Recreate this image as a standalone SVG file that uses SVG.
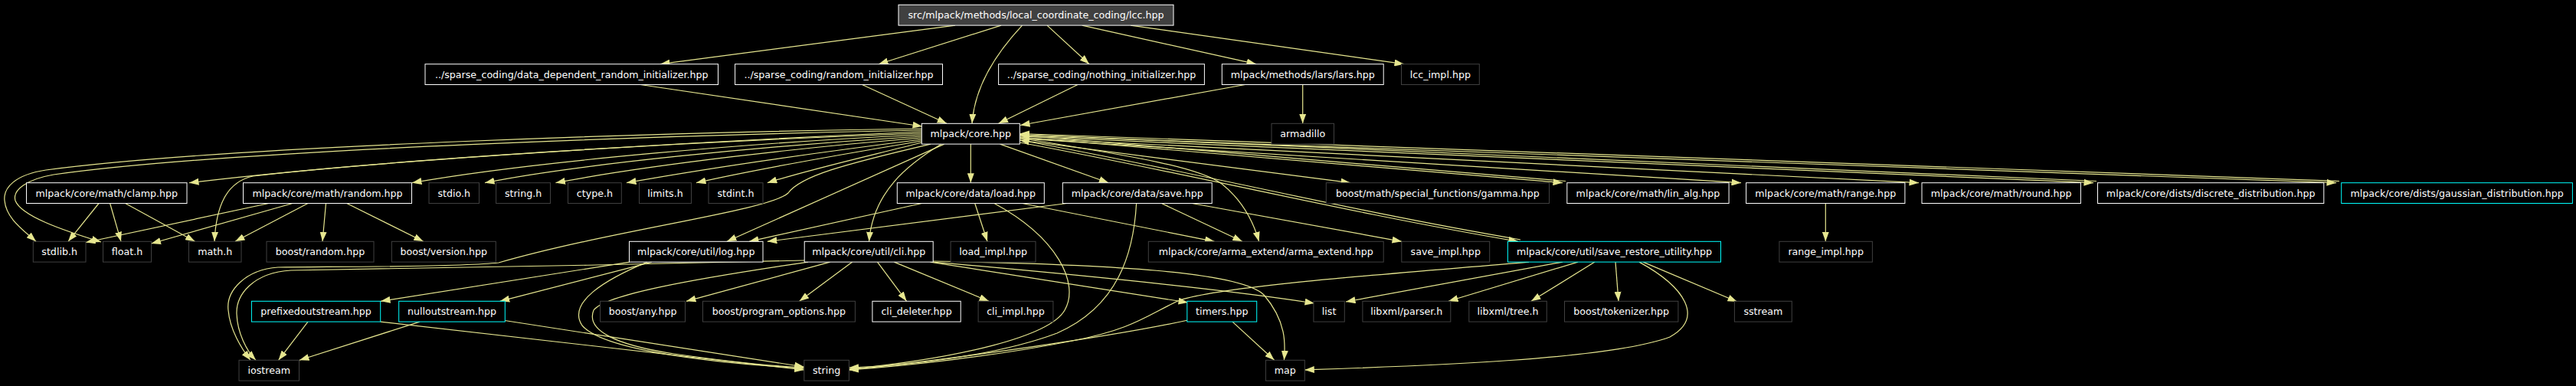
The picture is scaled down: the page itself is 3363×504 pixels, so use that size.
<svg xmlns="http://www.w3.org/2000/svg" width="3363" height="504" viewBox="0 0 3363 504">
<style>
.bg{fill:#000}
.n rect{fill:#000;stroke:#fff;stroke-width:1}
.n.root rect{fill:#404040}
.n.ext rect{stroke:#404040}
.n.tr rect{stroke:#00ffff}
.n text{font-family:"DejaVu Sans",sans-serif;font-size:12.65px;fill:#fff;text-anchor:middle}
#edges path{fill:none;stroke:#e6e68f;stroke-width:1.2;marker-end:url(#ah)}
</style>
<defs>
<marker id="ah" markerUnits="userSpaceOnUse" markerWidth="13" markerHeight="9" viewBox="0 0 13 9" refX="12.5" refY="4.5" orient="auto">
<path d="M0,0 L12.5,4.5 L0,9 z" fill="#e6e68f"/>
</marker>
</defs>
<rect class="bg" x="0" y="0" width="3363" height="504"/>
<g id="edges">
<path d="M1247,33.1 L862,83.7"/>
<path d="M1307,33.1 L1147,83.7"/>
<path d="M1334.5,33.1 C1300,70 1272,115 1269,161.3"/>
<path d="M1367,33.1 L1422,83.7"/>
<path d="M1412.7,33.1 L1640,83.7"/>
<path d="M1476,33.1 L1833,83.7"/>
<path d="M836,110.5 L1204,165"/>
<path d="M1125.5,110.5 L1236,161.3"/>
<path d="M1407,110.5 L1303.6,161.3"/>
<path d="M1625.5,110.5 L1332,163.5"/>
<path d="M1700.7,110.5 L1700.7,161.3"/>
<path d="M1203.3,174 C900,185 500,208 247,238.7"/>
<path d="M1203.3,176 C1000,185 700,210 538,238.7"/>
<path d="M1203.3,178 C1000,190 750,215 633,238.7"/>
<path d="M1203.3,180 C1050,192 850,215 725.5,238.7"/>
<path d="M1203.3,182 C1100,195 950,215 818,238.7"/>
<path d="M1203.3,184 C1120,198 1000,218 909,238.7"/>
<path d="M1203.3,186 C1150,200 1060,220 1001.8,238.7"/>
<path d="M1203.3,172 C900,185 500,210 330,230 C295,238 282,270 280,315.3"/>
<path d="M1203.3,168 C900,172 300,190 60,222 C20,228 4,245 6,262 C8,285 30,300 47,315.3"/>
<path d="M1203.3,170 C900,176 300,195 70,228 C35,234 16,248 20,262 C28,282 80,300 132,316"/>
<path d="M1267.3,188.1 L1267.3,238.7"/>
<path d="M1305.5,188.1 L1447.3,238.7"/>
<path d="M1232.7,188.1 L949,315.3"/>
<path d="M1229,188.1 C1185,215 1140,250 1134.5,315.3"/>
<path d="M1215,188.1 C1100,215 1045,230 1029,252 C1005,275 800,300 651,343 C600,349 420,348 363,349 C320,352 295,380 298,405 C300,430 315,455 327,470.3"/>
<path d="M1331.3,180 C1450,200 1560,215 1595,240 C1620,260 1635,285 1643.6,315.3"/>
<path d="M1331.3,183 L1763,238.7"/>
<path d="M1331.3,179 L2040,238.7"/>
<path d="M2044,236.5 L1331.3,176.5"/>
<path d="M1331.3,181 L2273,238.7"/>
<path d="M1331.3,180 L2505,238.7"/>
<path d="M1331.3,178 L2733,238.7"/>
<path d="M2737,236.5 L1331.3,175.5"/>
<path d="M1331.3,177 L3050,238.7"/>
<path d="M3054,236.5 L1331.3,174.5"/>
<path d="M1331.3,186 C1550,226 1750,276 1982,315.3"/>
<path d="M1985,313 C1750,273 1550,222 1331.3,183"/>
<path d="M129,265.5 L89,315.3"/>
<path d="M143.6,265.5 L158,315.3"/>
<path d="M163.6,265.5 L254.5,315.3"/>
<path d="M351,265.5 L112,316.5"/>
<path d="M382,265.5 L197.5,318"/>
<path d="M402,265.5 L307,315.3"/>
<path d="M425.5,265.5 L421,315.3"/>
<path d="M452.7,265.5 L552.7,315.3"/>
<path d="M1203.6,265.5 L978,315.3"/>
<path d="M1272.7,265.5 L1289,315.3"/>
<path d="M1298,265.5 C1380,310 1410,370 1390,405 C1370,440 1250,468 1108.4,482"/>
<path d="M1334.5,265.5 L1585.5,315.3"/>
<path d="M1393,265.5 L1001.8,315.3"/>
<path d="M1483.6,265.5 C1480,330 1460,400 1380,435 C1300,465 1180,478 1108.4,480"/>
<path d="M1516.4,265.5 L1621.8,315.3"/>
<path d="M1556,265.5 L1830,315.3"/>
<path d="M2383.3,265.5 L2383.3,315.3"/>
<path d="M822,342.1 L497,393.3"/>
<path d="M851,342.1 L652.7,393.3"/>
<path d="M845,342.1 C790,365 740,395 760,425 C790,460 950,475 1049.8,481"/>
<path d="M1050.2,340 C850,346 500,350 380,353 C330,356 308,385 309,410 C310,435 322,458 334,470.3"/>
<path d="M1055,342.1 C900,365 790,385 775,405 C765,430 800,450 880,462 C950,472 1010,478 1049.8,480"/>
<path d="M1083.6,342.1 L896,393.3"/>
<path d="M1112.7,342.1 L1043.6,393.3"/>
<path d="M1145.5,342.1 L1183.6,393.3"/>
<path d="M1167.3,342.1 L1291,393.3"/>
<path d="M1214.5,342.1 L1551,395"/>
<path d="M1218,341 C1450,345 1620,355 1650,385 C1680,420 1678,450 1676.4,470.3"/>
<path d="M1218,342.1 C1400,358 1600,378 1716,396"/>
<path d="M402,420.1 L363.6,470.3"/>
<path d="M496.7,420.1 L1049.8,483"/>
<path d="M548,420.1 L391,470.3"/>
<path d="M659,418.5 L1049.8,479"/>
<path d="M1609,420.1 L1663.6,470.3"/>
<path d="M1551,418 C1450,440 1250,468 1108.4,483"/>
<path d="M1996,342.1 C1850,355 1600,372 1540,392 C1500,410 1480,430 1400,445 C1300,465 1180,478 1108.4,483"/>
<path d="M2040,342.1 L1757,394"/>
<path d="M2060,342.1 L1891,393.3"/>
<path d="M2082,342.1 L1999,393.3"/>
<path d="M2109,342.1 L2113,393.3"/>
<path d="M2140,342.1 C2200,375 2225,415 2180,440 C2100,470 1850,478 1703.3,483"/>
<path d="M2145,342.1 L2268,394"/>
</g>
<g id="n_root" class="n root"><rect x="1173" y="6.3" width="359" height="26.8"/><text x="1352.5" y="24.1">src/mlpack/methods/local_coordinate_coding/lcc.hpp</text></g>
<g id="n_ddri" class="n"><rect x="555" y="83.7" width="382.5" height="26.8"/><text x="746.25" y="101.5">../sparse_coding/data_dependent_random_initializer.hpp</text></g>
<g id="n_ri" class="n"><rect x="959.6" y="83.7" width="270.9" height="26.8"/><text x="1095.05" y="101.5">../sparse_coding/random_initializer.hpp</text></g>
<g id="n_ni" class="n"><rect x="1303.6" y="83.7" width="268.8" height="26.8"/><text x="1438" y="101.5">../sparse_coding/nothing_initializer.hpp</text></g>
<g id="n_lars" class="n"><rect x="1595.3" y="83.7" width="210.9" height="26.8"/><text x="1700.75" y="101.5">mlpack/methods/lars/lars.hpp</text></g>
<g id="n_lccimpl" class="n ext"><rect x="1829.5" y="83.7" width="101.8" height="26.8"/><text x="1880.4" y="101.5">lcc_impl.hpp</text></g>
<g id="n_core" class="n"><rect x="1203.3" y="161.3" width="128" height="26.8"/><text x="1267.3" y="179.1">mlpack/core.hpp</text></g>
<g id="n_arma" class="n ext"><rect x="1660" y="161.3" width="81.5" height="26.8"/><text x="1700.75" y="179.1">armadillo</text></g>
<g id="n_clamp" class="n"><rect x="34.5" y="238.7" width="209.5" height="26.8"/><text x="139.25" y="256.5">mlpack/core/math/clamp.hpp</text></g>
<g id="n_random" class="n"><rect x="317.5" y="238.7" width="220" height="26.8"/><text x="427.5" y="256.5">mlpack/core/math/random.hpp</text></g>
<g id="n_stdio" class="n ext"><rect x="560" y="238.7" width="65.5" height="26.8"/><text x="592.75" y="256.5">stdio.h</text></g>
<g id="n_stringh" class="n ext"><rect x="647.6" y="238.7" width="70.9" height="26.8"/><text x="683.05" y="256.5">string.h</text></g>
<g id="n_ctype" class="n ext"><rect x="741.5" y="238.7" width="69.8" height="26.8"/><text x="776.4" y="256.5">ctype.h</text></g>
<g id="n_limits" class="n ext"><rect x="834.5" y="238.7" width="68" height="26.8"/><text x="868.5" y="256.5">limits.h</text></g>
<g id="n_stdint" class="n ext"><rect x="925" y="238.7" width="71" height="26.8"/><text x="960.5" y="256.5">stdint.h</text></g>
<g id="n_load" class="n"><rect x="1171.3" y="238.7" width="192" height="26.8"/><text x="1267.3" y="256.5">mlpack/core/data/load.hpp</text></g>
<g id="n_save" class="n"><rect x="1387.3" y="238.7" width="194.9" height="26.8"/><text x="1484.75" y="256.5">mlpack/core/data/save.hpp</text></g>
<g id="n_gamma" class="n ext"><rect x="1731.3" y="238.7" width="291.2" height="26.8"/><text x="1876.9" y="256.5">boost/math/special_functions/gamma.hpp</text></g>
<g id="n_linalg" class="n"><rect x="2045.8" y="238.7" width="211.3" height="26.8"/><text x="2151.45" y="256.5">mlpack/core/math/lin_alg.hpp</text></g>
<g id="n_range" class="n"><rect x="2279.6" y="238.7" width="207.3" height="26.8"/><text x="2383.25" y="256.5">mlpack/core/math/range.hpp</text></g>
<g id="n_round" class="n"><rect x="2509" y="238.7" width="207.4" height="26.8"/><text x="2612.7" y="256.5">mlpack/core/math/round.hpp</text></g>
<g id="n_discrete" class="n"><rect x="2738.5" y="238.7" width="295.3" height="26.8"/><text x="2886.15" y="256.5">mlpack/core/dists/discrete_distribution.hpp</text></g>
<g id="n_gaussian" class="n tr"><rect x="3056.7" y="238.7" width="301.7" height="26.8"/><text x="3207.55" y="256.5">mlpack/core/dists/gaussian_distribution.hpp</text></g>
<g id="n_stdlib" class="n ext"><rect x="43.3" y="315.3" width="68.7" height="26.8"/><text x="77.65" y="333.1">stdlib.h</text></g>
<g id="n_float" class="n ext"><rect x="134.5" y="315.3" width="63" height="26.8"/><text x="166" y="333.1">float.h</text></g>
<g id="n_math" class="n ext"><rect x="246.5" y="315.3" width="68.5" height="26.8"/><text x="280.75" y="333.1">math.h</text></g>
<g id="n_brandom" class="n ext"><rect x="348" y="315.3" width="140" height="26.8"/><text x="418" y="333.1">boost/random.hpp</text></g>
<g id="n_bversion" class="n ext"><rect x="511.3" y="315.3" width="136" height="26.8"/><text x="579.3" y="333.1">boost/version.hpp</text></g>
<g id="n_log" class="n"><rect x="821.5" y="315.3" width="174.5" height="26.8"/><text x="908.75" y="333.1">mlpack/core/util/log.hpp</text></g>
<g id="n_cli" class="n"><rect x="1050.2" y="315.3" width="168" height="26.8"/><text x="1134.2" y="333.1">mlpack/core/util/cli.hpp</text></g>
<g id="n_loadimpl" class="n ext"><rect x="1241.1" y="315.3" width="110.9" height="26.8"/><text x="1296.55" y="333.1">load_impl.hpp</text></g>
<g id="n_armaext" class="n ext"><rect x="1499.3" y="315.3" width="306.9" height="26.8"/><text x="1652.75" y="333.1">mlpack/core/arma_extend/arma_extend.hpp</text></g>
<g id="n_saveimpl" class="n ext"><rect x="1829.8" y="315.3" width="114.9" height="26.8"/><text x="1887.25" y="333.1">save_impl.hpp</text></g>
<g id="n_sru" class="n tr"><rect x="1968.4" y="315.3" width="278.1" height="26.8"/><text x="2107.45" y="333.1">mlpack/core/util/save_restore_utility.hpp</text></g>
<g id="n_rangeimpl" class="n ext"><rect x="2322.9" y="315.3" width="121.5" height="26.8"/><text x="2383.65" y="333.1">range_impl.hpp</text></g>
<g id="n_prefixed" class="n tr"><rect x="328.4" y="393.3" width="168.3" height="26.8"/><text x="412.55" y="411.1">prefixedoutstream.hpp</text></g>
<g id="n_null" class="n tr"><rect x="520.7" y="393.3" width="138.6" height="26.8"/><text x="590" y="411.1">nulloutstream.hpp</text></g>
<g id="n_any" class="n ext"><rect x="783.6" y="393.3" width="110.9" height="26.8"/><text x="839.05" y="411.1">boost/any.hpp</text></g>
<g id="n_po" class="n ext"><rect x="917.5" y="393.3" width="198.9" height="26.8"/><text x="1016.95" y="411.1">boost/program_options.hpp</text></g>
<g id="n_clidel" class="n"><rect x="1138.9" y="393.3" width="115.3" height="26.8"/><text x="1196.55" y="411.1">cli_deleter.hpp</text></g>
<g id="n_cliimpl" class="n ext"><rect x="1277.1" y="393.3" width="97.8" height="26.8"/><text x="1326" y="411.1">cli_impl.hpp</text></g>
<g id="n_timers" class="n tr"><rect x="1549.8" y="393.3" width="90.9" height="26.8"/><text x="1595.25" y="411.1">timers.hpp</text></g>
<g id="n_list" class="n ext"><rect x="1714.9" y="393.3" width="40.4" height="26.8"/><text x="1735.1" y="411.1">list</text></g>
<g id="n_parser" class="n ext"><rect x="1778.9" y="393.3" width="114.9" height="26.8"/><text x="1836.35" y="411.1">libxml/parser.h</text></g>
<g id="n_tree" class="n ext"><rect x="1917.8" y="393.3" width="101.5" height="26.8"/><text x="1968.55" y="411.1">libxml/tree.h</text></g>
<g id="n_tokenizer" class="n ext"><rect x="2042.5" y="393.3" width="148.4" height="26.8"/><text x="2116.7" y="411.1">boost/tokenizer.hpp</text></g>
<g id="n_sstream" class="n ext"><rect x="2264.4" y="393.3" width="74.9" height="26.8"/><text x="2301.85" y="411.1">sstream</text></g>
<g id="n_iostream" class="n ext"><rect x="312" y="470.3" width="78.5" height="26.8"/><text x="351.25" y="488.1">iostream</text></g>
<g id="n_string" class="n ext"><rect x="1049.8" y="470.3" width="58.6" height="26.8"/><text x="1079.1" y="488.1">string</text></g>
<g id="n_map" class="n ext"><rect x="1652.4" y="470.3" width="50.9" height="26.8"/><text x="1677.85" y="488.1">map</text></g>
</svg>
